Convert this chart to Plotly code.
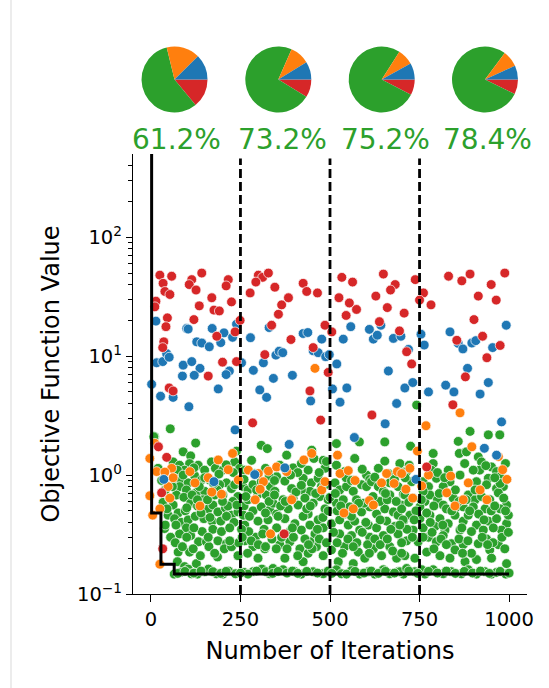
import plotly.graph_objects as go

# ---------------- data ----------------
x_ticks = [0, 250, 500, 750, 1000]
y_ticks = [0.1, 1, 10, 100]
y_tick_text = ["10<sup>−1</sup>", "10<sup>0</sup>", "10<sup>1</sup>", "10<sup>2</sup>"]
y_minor_ticks = [0.2, 0.3, 0.4, 0.5, 0.6, 0.7, 0.8, 0.9,
                 2, 3, 4, 5, 6, 7, 8, 9,
                 20, 30, 40, 50, 60, 70, 80, 90,
                 200, 300, 400]
split_iters = [250, 500, 750]

pie_blue = [31, 22, 20, 17]
pie_orange = [41, 24, 20, 20]
pie_green = [143, 182, 191, 195]
pie_red = [35, 22, 19, 18]
pct_labels = ["61.2%", "73.2%", "75.2%", "78.4%"]

best_x = [0, 2, 28, 65, 1000]
best_y = [900, 0.48, 0.178, 0.147, 0.147]

red_x = [25, 58, 34, 39, 53, 14, 11, 46, 42, 36, 33, 51, 62, 114, 107, 126, 142, 170, 135, 120,
         176, 191, 216, 210, 225, 184, 235, 249, 200, 239, 160, 300, 312, 328, 293, 346, 277, 384, 365, 356,
         337, 391, 318, 284, 425, 435, 465, 486, 505, 453, 495, 444, 474, 533, 563, 525, 554, 574, 545, 649,
         682, 669, 628, 660, 707, 638, 694, 714, 728, 617, 738, 761, 750, 782, 831, 868, 891, 950, 914, 964,
         902, 926, 854, 975, 938, 878, 843, 988, 21, 44, 30, 33, 372, 770]
red_y = [48, 47, 41, 35, 33, 29, 26, 21, 17.7, 13.2, 11.8, 5.4, 5.1, 44, 40, 36, 50, 31, 26.5, 20.3,
         24.4, 24, 44, 39, 28.6, 14.7, 16, 20, 8.9, 9.0, 6.8, 48, 46, 50, 42, 38, 34, 31, 27, 22.5,
         18.2, 13.8, 10.3, 2.75, 41, 35, 34, 18.2, 16, 11.8, 7.3, 5.1, 2.9, 46, 42, 31, 28, 24.7, 22, 49,
         40, 36, 32, 25.6, 23, 19.5, 16.3, 10.9, 8.6, 3.2, 44, 34, 29.6, 27, 47, 43, 49, 40, 32, 29.6,
         20.3, 14.7, 13.6, 12.3, 9.7, 6.7, 3.9, 50, 1.73, 1.41, 0.71, 0.24, 0.32, 1.17]

blue_x = [14, 2, 16, 33, 44, 51, 27, 62, 100, 104, 128, 142, 163, 90, 114, 137, 88, 121, 106, 188,
          171, 204, 195, 228, 239, 219, 210, 235, 253, 278, 286, 314, 330, 349, 358, 368, 342, 304, 323, 395,
          425, 438, 477, 453, 467, 488, 498, 519, 507, 547, 446, 528, 537, 558, 610, 621, 632, 642, 677, 698,
          719, 663, 709, 731, 686, 654, 754, 763, 775, 835, 858, 871, 896, 907, 954, 992, 884, 942, 823, 846,
          919, 979, 386, 568, 931, 965, 36, 176, 290, 374, 740]
blue_y = [19.7, 5.8, 8.8, 9.0, 10.5, 9.8, 4.6, 4.5, 17.1, 16.9, 13.2, 12.9, 12.0, 8.4, 9.0, 7.9, 6.8, 6.9, 3.76, 5.3,
          17.1, 15.7, 13.0, 14.4, 18.6, 7.5, 7.0, 2.4, 8.8, 14.3, 7.6, 8.8, 17.4, 10.2, 11.0, 10.7, 6.5, 5.2, 4.5, 6.9,
          15.5, 15.8, 13.9, 11.1, 10.7, 9.9, 10.3, 8.6, 5.3, 5.4, 4.2, 4.1, 13.9, 17.7, 16.8, 13.9, 15.0, 18.2, 14.1, 14.7,
          11.4, 7.5, 5.4, 6.0, 4.0, 2.7, 15.3, 12.4, 5.0, 16, 12.8, 11.5, 12.9, 13.5, 11.8, 18.2, 7.9, 6.0, 5.7, 5.0,
          4.8, 2.8, 1.81, 2.07, 1.68, 1.47, 0.92, 0.88, 1.01, 1.15, 0.92]

orange_x = [11, -3, 16, -3, 5, 25, 58, 48, 53, 25, 62, 109, 123, 160, 170, 188, 197, 137, 228, 216,
            244, 272, 300, 314, 328, 351, 379, 427, 305, 291, 334, 449, 393, 477, 486, 521, 528, 551, 570, 610,
            621, 539, 565, 644, 658, 679, 688, 700, 723, 712, 731, 744, 756, 775, 826, 837, 872, 886, 919, 970,
            982, 994, 896, 938, 849, 863, 768, 458, 39]
orange_y = [1.85, 1.38, 1.07, 0.67, 0.46, 0.178, 1.14, 0.80, 0.64, 0.52, 0.95, 1.07, 0.86, 0.95, 0.72, 1.34, 0.69, 0.55, 1.52, 1.11,
            0.91, 1.10, 1.03, 0.88, 1.08, 1.17, 1.07, 1.34, 0.76, 0.62, 0.32, 1.52, 0.62, 0.75, 0.88, 1.47, 1.03, 1.09, 0.90, 0.61,
            0.56, 0.48, 0.52, 0.86, 1.03, 0.85, 1.07, 1.03, 1.14, 0.76, 0.64, 1.59, 0.81, 1.00, 0.71, 0.98, 0.62, 0.86, 0.75, 1.43,
            1.11, 0.92, 1.73, 0.62, 0.55, 3.34, 2.6, 7.9, 1.06]

green_x = [
    # 0-340
    54, 10, 125, 239, 308, 325, 90, 111,
    62, 80, 108, 94, 74, 132, 150, 169, 180, 201, 217, 234, 248, 281, 262, 320, 290, 20,
    66, 85, 104, 122, 141, 80, 99, 127, 150, 178, 211, 225, 201, 234, 243, 257, 271, 285, 299, 322, 308, 334, 164, 192,
    34, 52, 71, 92, 62, 76, 96, 111, 130, 146, 160, 173, 187, 208, 225, 243, 260, 285, 308, 332, 271, 229,
    48, 66, 85, 104, 124, 148, 171, 195, 211, 232, 262, 299, 327, 316, 292, 273, 253, 38, 99, 80, 111, 143, 173, 197, 220,
    133, 155, 187, 211, 262, 285, 318, 76, 108, 186, 243, 74, 94, 127, 299,
    65, 83, 104, 130, 150, 161, 183, 201, 217, 236, 260, 285, 310, 332, 113, 173, 271, 322,
    # 340-710
    518, 449, 582, 653, 653, 569, 481, 455,
    379, 360, 397, 420, 439, 486, 518, 541, 602, 611, 635, 663, 700, 695,
    351, 374, 393, 346, 425, 448, 467, 476, 444, 420, 514, 527, 546, 565, 588, 602, 616, 635, 649, 667, 690, 705, 667,
    341, 369, 397, 383, 411, 430, 453, 472, 495, 486, 518, 537, 555, 574, 588, 611, 630, 653, 677, 700, 639, 690, 351, 439, 541,
    374, 402, 425, 444, 467, 481, 504, 527, 551, 569, 583, 607, 630, 658, 681, 705, 351, 388, 420, 458, 527, 560, 611, 649, 690,
    360, 388, 416, 439, 462, 481, 504, 541, 579, 597, 621, 644, 667, 686, 374, 425, 523, 565, 444,
    341, 369, 420, 453, 481, 518, 532, 560, 583, 607, 625, 649, 667, 690, 705, 402, 546,
    # 695-1000
    891, 942, 974, 858, 725, 788, 861, 881, 914, 923, 876, 788,
    721, 714, 783, 797, 918, 951, 965, 975, 942, 909, 835, 816, 937, 965, 984, 760, 775, 863,
    709, 732, 765, 779, 800, 816, 844, 853, 886, 905, 900, 923, 946, 970, 993, 975, 933, 872, 825, 751, 700,
    723, 704, 751, 779, 807, 830, 849, 872, 886, 909, 942, 965, 993, 979, 956, 928, 895, 863, 821, 793, 760, 732,
    714, 746, 775, 797, 816, 839, 849, 872, 914, 937, 946, 970, 988, 993, 770, 807, 835, 877, 909, 951, 709, 737,
    695, 714, 737, 765, 788, 816, 839, 867, 886, 909, 933, 951, 965, 991, 756,
    742, 8,
    # extra floor points
    75, 95, 120, 140, 195, 210, 250, 295, 340, 355, 380, 395, 410, 435, 465, 495, 505, 570, 595, 615,
    635, 655, 680, 720, 745, 775, 800, 825, 850, 875, 898, 920, 945, 975, 1000,
    # extra mid points
    40, 55, 68, 88, 118, 138, 162, 178, 205, 225, 245, 115, 135, 158, 185, 215, 240, 90, 120, 190,
    210, 60, 45, 165, 140, 100,
    258, 280, 300, 312, 338, 350, 365, 380, 398, 410, 430, 450, 470, 490, 265, 295, 330, 345, 362, 405,
    435, 460, 480, 495, 260, 330, 410, 470, 490,
    510, 520, 535, 550, 575, 590, 605, 625, 640, 660, 675, 700, 715, 730, 520, 560, 595, 620, 660, 685,
    720, 740, 545, 590, 625, 680, 728,
    760, 785, 790, 810, 825, 860, 885, 895, 925, 955, 980, 998, 770, 790, 840, 860, 880, 915, 950, 985,
    998, 800, 830, 900, 935, 990, 760,
    # further fill of the dense band
    30, 70, 130, 150, 175, 200, 230, 255, 270, 40, 100, 160, 220, 120,
    275, 320, 355, 375, 420, 445, 465, 485, 500, 345, 390, 440, 395, 320,
    515, 530, 560, 580, 600, 640, 655, 670, 695, 710, 735, 565, 610, 700,
    755, 780, 805, 815, 850, 868, 890, 905, 930, 960, 975, 990, 870, 940, 820, 960]
green_y = [
    2.45, 2.1, 1.86, 1.59, 1.78, 1.67, 1.57, 1.45,
    1.29, 1.21, 1.25, 1.1, 1.1, 1.21, 1.1, 1.29, 1.14, 1.1, 1.14, 1.29, 1.14, 1.33, 1.1, 1.14, 1.03, 1.14,
    0.94, 0.91, 0.86, 0.99, 0.91, 0.80, 0.75, 0.71, 0.73, 0.68, 0.86, 0.77, 0.68, 0.83, 0.66, 0.80, 0.75, 0.83, 0.69, 0.68, 0.88, 0.80, 0.91, 0.83,
    0.59, 0.64, 0.68, 0.65, 0.56, 0.48, 0.50, 0.58, 0.55, 0.62, 0.52, 0.56, 0.49, 0.53, 0.46, 0.49, 0.55, 0.50, 0.54, 0.51, 0.62, 0.60,
    0.46, 0.43, 0.40, 0.42, 0.45, 0.43, 0.41, 0.41, 0.45, 0.40, 0.38, 0.41, 0.42, 0.35, 0.30, 0.335, 0.35, 0.355, 0.36, 0.32, 0.31, 0.335, 0.35, 0.335, 0.36,
    0.275, 0.275, 0.28, 0.265, 0.28, 0.25, 0.24, 0.225, 0.225, 0.205, 0.21, 0.187, 0.17, 0.18, 0.20,
    0.147, 0.152, 0.162, 0.147, 0.154, 0.162, 0.148, 0.147, 0.156, 0.148, 0.152, 0.154, 0.162, 0.148, 0.148, 0.154, 0.147, 0.154,
    1.84, 1.62, 1.9, 1.9, 1.31, 1.38, 1.33, 1.38,
    1.47, 1.21, 1.15, 1.25, 1.1, 1.14, 1.21, 1.07, 1.0, 0.92, 1.14, 1.03, 1.07, 1.25,
    0.97, 0.89, 0.77, 0.73, 0.94, 0.86, 0.94, 0.80, 0.73, 0.75, 0.86, 0.75, 0.80, 0.73, 0.83, 0.80, 0.88, 0.80, 0.73, 0.68, 0.80, 0.69, 0.86,
    0.58, 0.62, 0.64, 0.52, 0.56, 0.64, 0.58, 0.66, 0.62, 0.52, 0.58, 0.62, 0.54, 0.62, 0.49, 0.54, 0.47, 0.52, 0.49, 0.56, 0.60, 0.46, 0.47, 0.47, 0.47,
    0.43, 0.39, 0.45, 0.38, 0.42, 0.36, 0.39, 0.42, 0.38, 0.41, 0.345, 0.38, 0.36, 0.41, 0.37, 0.41, 0.36, 0.335, 0.345, 0.32, 0.32, 0.31, 0.30, 0.31, 0.32,
    0.26, 0.275, 0.24, 0.22, 0.25, 0.21, 0.235, 0.25, 0.225, 0.20, 0.24, 0.21, 0.25, 0.20, 0.20, 0.187, 0.187, 0.18, 0.275,
    0.164, 0.16, 0.147, 0.154, 0.148, 0.16, 0.148, 0.157, 0.147, 0.154, 0.147, 0.16, 0.148, 0.154, 0.147, 0.154, 0.147,
    2.33, 2.18, 2.18, 1.92, 1.75, 1.52, 1.52, 1.57, 1.42, 1.29, 1.25, 1.25,
    1.21, 1.07, 1.10, 0.94, 1.10, 1.17, 1.07, 0.97, 0.94, 0.88, 0.88, 0.80, 0.83, 0.77, 0.80, 0.88, 0.80, 1.00,
    0.68, 0.64, 0.60, 0.68, 0.62, 0.56, 0.64, 0.54, 0.68, 0.62, 0.54, 0.66, 0.62, 0.71, 0.56, 0.52, 0.52, 0.54, 0.52, 0.54, 0.52,
    0.46, 0.42, 0.43, 0.46, 0.43, 0.39, 0.46, 0.41, 0.46, 0.38, 0.41, 0.43, 0.39, 0.345, 0.36, 0.345, 0.335, 0.345, 0.345, 0.37, 0.36, 0.345,
    0.28, 0.275, 0.30, 0.275, 0.31, 0.265, 0.235, 0.26, 0.265, 0.29, 0.235, 0.26, 0.24, 0.18, 0.225, 0.21, 0.20, 0.187, 0.195, 0.20, 0.21, 0.20,
    0.154, 0.164, 0.154, 0.147, 0.16, 0.148, 0.154, 0.148, 0.16, 0.147, 0.154, 0.147, 0.152, 0.147, 0.16,
    3.88, 2.1,
    0.149, 0.155, 0.150, 0.156, 0.149, 0.155, 0.150, 0.156, 0.149, 0.155, 0.150, 0.156, 0.149, 0.155, 0.150, 0.156, 0.149, 0.155, 0.150, 0.156,
    0.149, 0.155, 0.150, 0.156, 0.149, 0.155, 0.150, 0.156, 0.149, 0.155, 0.150, 0.156, 0.149, 0.155, 0.150,
    0.38, 0.30, 0.27, 0.25, 0.24, 0.21, 0.25, 0.22, 0.24, 0.25, 0.27, 0.68, 0.80, 0.62, 0.75, 0.55, 0.56, 1.0, 1.15, 1.02,
    1.22, 0.80, 0.52, 0.44, 0.48, 0.53,
    0.46, 0.28, 0.26, 0.32, 0.29, 0.24, 0.30, 0.24, 0.30, 0.21, 0.29, 0.24, 0.29, 0.27, 0.66, 0.75, 0.60, 0.68, 0.55, 0.72,
    0.52, 0.70, 0.44, 0.50, 0.92, 0.98, 1.05, 1.05, 1.3,
    0.33, 0.27, 0.22, 0.29, 0.27, 0.33, 0.26, 0.29, 0.26, 0.29, 0.23, 0.27, 0.35, 0.30, 0.50, 0.45, 0.58, 0.66, 0.62, 0.60,
    0.59, 0.50, 0.95, 1.12, 0.96, 0.92, 0.88,
    0.30, 0.33, 0.24, 0.29, 0.26, 0.29, 0.28, 0.22, 0.30, 0.27, 0.30, 0.33, 0.48, 0.55, 0.50, 0.60, 0.62, 0.47, 0.50, 0.64,
    0.46, 1.05, 1.1, 1.1, 1.2, 1.25, 0.73,
    0.90, 0.38, 0.62, 0.95, 0.85, 0.60, 1.05, 0.30, 0.22, 0.75, 0.30, 0.30, 0.28, 0.36,
    0.45, 0.48, 0.45, 0.60, 0.82, 0.55, 0.35, 0.82, 0.65, 0.90, 1.0, 0.26, 0.36, 0.25,
    0.70, 0.55, 0.90, 0.58, 0.40, 0.42, 0.70, 0.35, 0.38, 0.95, 0.42, 0.25, 0.22, 0.22,
    0.62, 0.40, 0.70, 0.38, 0.75, 0.36, 0.50, 0.75, 0.42, 0.55, 0.85, 0.50, 0.22, 0.26, 0.95, 0.95]

# ---------------- styling ----------------
C_BLUE, C_ORANGE, C_GREEN, C_RED = "#1f77b4", "#ff7f0e", "#2ca02c", "#d62728"
FONT = "DejaVu Sans"
W, H = 549, 688
ML, MR, MT, MB = 133, 22, 20, 94
PW, PH = W - ML - MR, H - MT - MB

def px_x(p):
    return (p - ML) / PW

def px_y(p):
    return (H - MB - p) / PH

fig = go.Figure()

def add_pts(xs, ys, color):
    fig.add_trace(go.Scatter(
        x=xs, y=ys, mode="markers", showlegend=False, hoverinfo="skip",
        marker=dict(color=color, size=9.8, line=dict(color="white", width=0.7))))

add_pts(green_x, green_y, C_GREEN)
add_pts(orange_x, orange_y, C_ORANGE)
add_pts(blue_x, blue_y, C_BLUE)
add_pts(red_x, red_y, C_RED)

fig.add_trace(go.Scatter(x=best_x, y=best_y, mode="lines", showlegend=False,
                         hoverinfo="skip", line=dict(color="black", width=3, shape="hv")))

for s in split_iters:
    fig.add_shape(type="line", xref="x", yref="y domain", x0=s, x1=s, y0=0, y1=0.99,
                  line=dict(color="black", width=2.8, dash="9px,4px"))

pie_centers = [174.5, 278.3, 381.7, 485.0]
pie_cy, pie_r = 79.5, 33
text_centers = [176.5, 282.5, 385.5, 487.0]
for i in range(4):
    cx = pie_centers[i]
    # clockwise from 3 o'clock in reverse order == matplotlib's counterclockwise default
    fig.add_trace(go.Pie(
        values=[pie_red[i], pie_green[i], pie_orange[i], pie_blue[i]],
        marker=dict(colors=[C_RED, C_GREEN, C_ORANGE, C_BLUE], line=dict(width=0)),
        sort=False, direction="clockwise", rotation=90,
        textinfo="none", hoverinfo="skip", showlegend=False,
        domain=dict(x=[px_x(cx - pie_r), px_x(cx + pie_r)],
                    y=[px_y(pie_cy + pie_r), px_y(pie_cy - pie_r)])))
    fig.add_annotation(text=pct_labels[i], xref="paper", yref="paper",
                       x=px_x(text_centers[i]), y=px_y(139.5),
                       xanchor="center", yanchor="middle", showarrow=False,
                       font=dict(family=FONT, size=28, color=C_GREEN))

fig.add_shape(type="line", xref="paper", yref="paper",
              x0=px_x(11), x1=px_x(11), y0=px_y(H), y1=px_y(0),
              line=dict(color="#d9d9d9", width=1))

fig.update_layout(
    width=W, height=H, margin=dict(l=ML, r=MR, t=MT, b=MB),
    paper_bgcolor="white", plot_bgcolor="white",
    font=dict(family=FONT, color="black"),
    xaxis=dict(range=[-50, 1050], tickmode="array", tickvals=x_ticks,
               showgrid=False, zeroline=False, showline=True, linecolor="black", linewidth=1.3,
               ticks="outside", ticklen=7, tickwidth=1.3, tickcolor="black",
               tickfont=dict(family=FONT, size=19.5, color="black"),
               title=dict(text="Number of Iterations", standoff=12,
                          font=dict(family=FONT, size=24, color="black"))),
    yaxis=dict(type="log", range=[-1, 2.70], domain=[0, px_y(154)],
               tickmode="array", tickvals=y_ticks, ticktext=y_tick_text,
               showgrid=False, zeroline=False, showline=True, linecolor="black", linewidth=1.3,
               ticks="outside", ticklen=6, tickwidth=1.3, tickcolor="black",
               tickfont=dict(family=FONT, size=19.5, color="black"),
               minor=dict(tickmode="array", tickvals=y_minor_ticks, ticks="outside",
                          ticklen=3.5, tickwidth=1, tickcolor="black", showgrid=False),
               title=dict(text="Objective Function Value", standoff=10,
                          font=dict(family=FONT, size=24, color="black"))),
)

fig.write_html("out.html")
